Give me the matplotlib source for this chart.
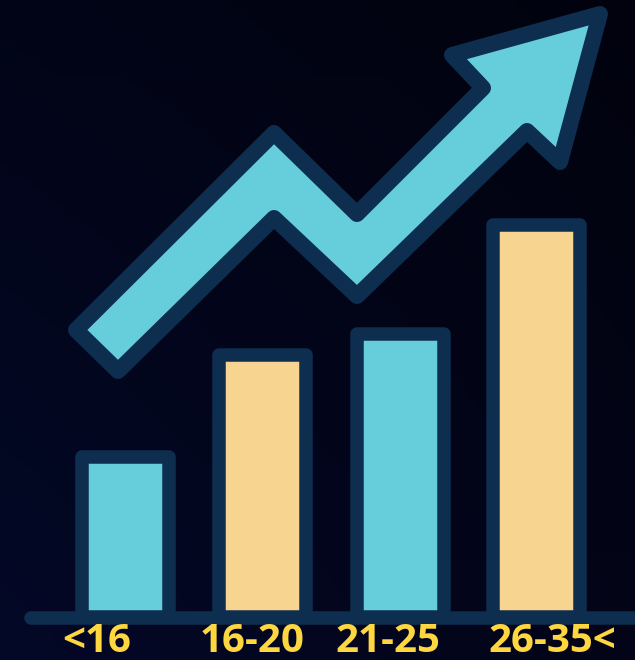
import numpy as np
import matplotlib
matplotlib.use("Agg")
import matplotlib.pyplot as plt
from matplotlib.patches import Polygon

categories = ["<16", "16-20", "21-25", "26-35<"]
values = [160, 262, 283, 392]
bar_colors = ["#66CEDB", "#F7D48F", "#66CEDB", "#F7D48F"]
label_x = [97, 252.5, 388, 552.5]
arrow_x = [76, 274, 357, 483, 452, 600, 560, 527, 357, 274, 118]
arrow_y = [330, 133, 214, 88, 55, 14, 162, 131, 296, 218, 371]
positions = [125, 262, 400, 536.5]

W, H = 635, 660
fig = plt.figure(figsize=(W / 100, H / 100), dpi=100)
ax = fig.add_axes([0, 0, 1, 1])
ax.set_xlim(0, W)
ax.set_ylim(H, 0)
ax.axis("off")

grad = np.zeros((66, 64, 3))
left = np.array([3, 8, 36]) / 255
right = np.array([3, 4, 20]) / 255
top = np.array([1, 2, 16]) / 255
for j in range(66):
    for i in range(64):
        t = i / 63
        v = j / 65
        grad[j, i] = (left * (1 - t) + right * t) * (0.55 + 0.45 * v) + top * 0.2
ax.imshow(grad, extent=(0, W, H, 0), aspect="auto", zorder=0, interpolation="bilinear")

edge = "#0E2E50"
lw_pt = 13.5 * 72 / 100
ax.bar(positions, values, width=87, bottom=617 - np.array(values), color=bar_colors,
       edgecolor=edge, linewidth=lw_pt, joinstyle="round", zorder=2)
ax.plot([31, 635], [617.5, 617.5], color=edge, lw=lw_pt, solid_capstyle="round", zorder=3)
ax.add_patch(Polygon(np.column_stack([arrow_x, arrow_y]), closed=True, facecolor="#66CEDB",
                     edgecolor=edge, linewidth=16 * 72 / 100, joinstyle="round", zorder=2))
for x, lab in zip(label_x, categories):
    ax.text(x, 642, lab, color="#FDD640", fontsize=29, fontweight="bold",
            family="Open Sans", ha="center", va="center", zorder=4)
ax.set_xlim(0, W)
ax.set_ylim(H, 0)
fig.savefig("out.png", dpi=100)
